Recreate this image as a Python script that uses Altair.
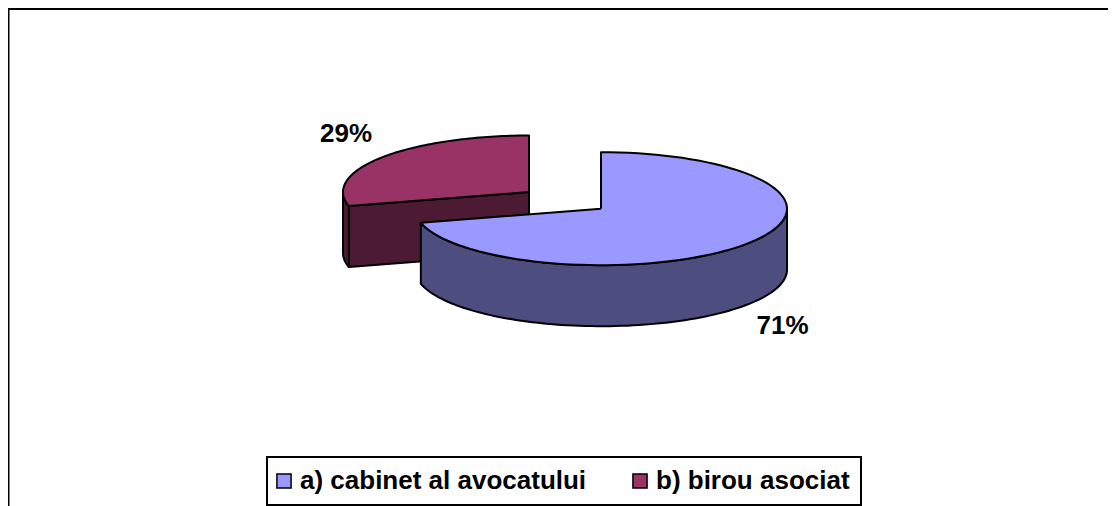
import numpy as np
import pandas as pd
import altair as alt

categories = ["a) cabinet al avocatului", "b) birou asociat"]
shares = [71, 29]
top_colors = ["#9999FF", "#993366"]
side_colors = ["#4D4D80", "#4D1A33"]

# pie geometry, in page pixels
CENTERS = {0: (601, 208.7), 1: (529, 192)}
A, B, DEPTH = 186, 56.5, 61
W, H = 1100, 498

xs = alt.Scale(domain=[8, 8 + W], range=[0, W])
ys = alt.Scale(domain=[8, 8 + H], range=[0, H])

def arc(i, t0, t1, dy=0.0, n=90):
    cx, cy = CENTERS[i]
    t = np.radians(np.linspace(t0, t1, n))
    return list(zip(cx + A * np.sin(t), cy - B * np.cos(t) + dy))

def frame(points, part, cat):
    return pd.DataFrame(
        [{"x": p[0], "y": p[1], "o": k, "part": part, "cat": cat} for k, p in enumerate(points)]
    )

cut = shares[0] / sum(shares) * 360
center = {i: [CENTERS[i]] for i in CENTERS}
c_low = {i: [(CENTERS[i][0], CENTERS[i][1] + DEPTH)] for i in CENTERS}

def poly(df, fill):
    return alt.Chart(df).mark_line(
        fill=fill, stroke="black", strokeWidth=2, strokeJoin="round", interpolate="linear"
    ).encode(
        x=alt.X("x:Q", scale=xs, axis=None),
        y=alt.Y("y:Q", scale=ys, axis=None),
        order="o:Q",
    )

# red slice: cut face, outer side strip, top
red_cut_pts = center[1] + arc(1, cut, cut, n=1) + arc(1, cut, cut, DEPTH, n=1) + c_low[1] + center[1]
red_side_pts = arc(1, cut, 270) + arc(1, 270, cut, DEPTH)
red_side_pts.append(red_side_pts[0])
red_top_pts = center[1] + arc(1, cut, 360) + center[1]
# blue slice: outer side, top
blue_side_pts = arc(0, 90, cut) + arc(0, cut, 90, DEPTH)
blue_side_pts.append(blue_side_pts[0])
blue_top_pts = center[0] + arc(0, 0, cut) + center[0]

layers = [
    poly(frame(red_cut_pts, "rc", categories[1]), side_colors[1]),
    poly(frame(red_side_pts, "rs", categories[1]), side_colors[1]),
    poly(frame(red_top_pts, "rt", categories[1]), top_colors[1]),
    poly(frame(blue_side_pts, "bs", categories[0]), side_colors[0]),
    poly(frame(blue_top_pts, "bt", categories[0]), top_colors[0]),
]

labels = pd.DataFrame({
    "t": [f"{s}%" for s in shares],
    "x": [782.5, 346],
    "y": [326, 133.5],
})
text = alt.Chart(labels).mark_text(
    font="Liberation Sans", fontSize=26, fontWeight="bold", color="black", baseline="middle"
).encode(x=alt.X("x:Q", scale=xs, axis=None), y=alt.Y("y:Q", scale=ys, axis=None), text="t:N")

# frame of the chart area (open on the right and at the bottom)
left_rule = alt.Chart(pd.DataFrame({"a": [0]})).mark_rule(color="black", strokeWidth=3).encode(
    x=alt.value(0), y=alt.value(0), y2=alt.value(H))
top_rule = alt.Chart(pd.DataFrame({"a": [0]})).mark_rule(color="black", strokeWidth=2).encode(
    y=alt.value(1), x=alt.value(0), x2=alt.value(W))

# legend built from the categories through the library's own legend
legend_src = pd.DataFrame({"cat": categories, "x": [8, 8], "y": [8, 8]})
legend_layer = alt.Chart(legend_src).mark_point(shape="square", filled=True, opacity=0, size=1).encode(
    x=alt.X("x:Q", scale=xs, axis=None),
    y=alt.Y("y:Q", scale=ys, axis=None),
    fill=alt.Fill(
        "cat:N",
        scale=alt.Scale(domain=categories, range=top_colors),
        legend=alt.Legend(
            title=None, orient="none", legendX=259, legendY=449, direction="horizontal",
            columns=2, columnPadding=42, padding=11,
            strokeColor="black", fillColor="white",
            labelFont="Liberation Sans", labelFontSize=26, labelFontWeight="bold", labelColor="black",
            labelOffset=3, labelLimit=400,
            symbolType="square", symbolSize=200, symbolStrokeColor="black", symbolStrokeWidth=1.5,
            symbolOpacity=1, symbolOffset=-7,
        ),
    ),
)

chart = alt.layer(left_rule, top_rule, *layers, text, legend_layer).properties(
    width=W, height=H, padding=0,
    autosize=alt.AutoSizeParams(type="none"),
    background="white",
).configure_view(stroke=None).configure_legend(strokeWidth=2)

chart.save("out.html", embed_options={"renderer": "svg", "actions": False})
